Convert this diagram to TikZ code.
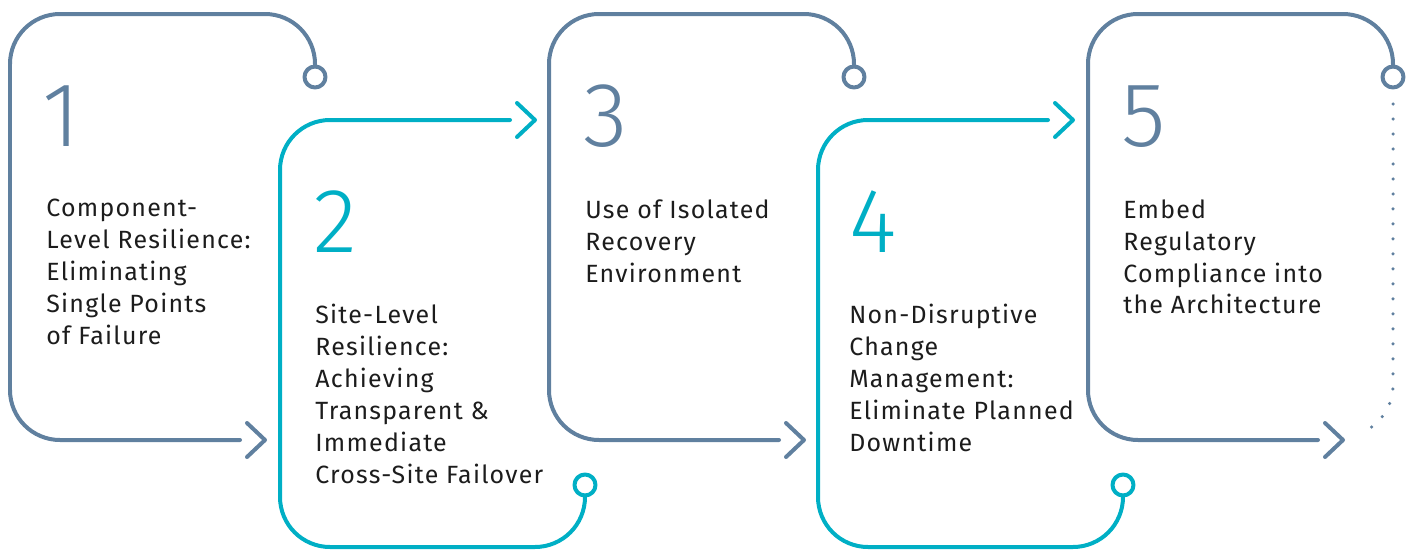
\documentclass[tikz,border=0pt]{standalone}
\usepackage{fontspec}
\setmainfont{Fira Sans}[LetterSpace=5]
\IfFontExistsTF{Fira Sans Light}{\newfontfamily\numfont{Fira Sans Light}}{\newfontfamily\numfont{Lato}}
\usepackage{tikz}
\definecolor{slate}{HTML}{60809F}
\definecolor{teal}{HTML}{00AFC5}
\definecolor{ink}{HTML}{1C1C1C}
\tikzset{
  stepline/.style={line width=0.08cm, line cap=round, line join=round},
  stepnum/.style={anchor=base west, inner sep=0pt, font=\numfont\fontsize{52pt}{52pt}\selectfont},
  steptext/.style={anchor=north west, inner sep=0pt, align=left, text=ink,
    font=\fontsize{14.2pt}{18.2pt}\selectfont}
}
% step opening upwards: circle on top, chevron at the bottom
\def\upstep[#1](#2){
  \draw[stepline,#1,rounded corners=1cm] (#2+305,66.5) -- (#2+305,14) -- (#2,14) -- (#2,440) -- (#2+230,440);
  \draw[stepline,#1] (#2+305,77) circle (10.5);
  \draw[stepline,#1] (#2+237,423) -- (#2+255,440) -- (#2+237,457);
}
% step opening downwards: chevron on top, circle at the bottom
\def\downstep[#1](#2){
  \draw[stepline,#1,rounded corners=1cm] (#2+230,120) -- (#2,120) -- (#2,547) -- (#2+305,547) -- (#2+305,495.5);
  \draw[stepline,#1] (#2+305,485) circle (10.5);
  \draw[stepline,#1] (#2+237,103) -- (#2+255,120) -- (#2+237,137);
}

\begin{document}
\begin{tikzpicture}[x=0.02cm, y=-0.02cm]
			%%%%% START %%%%%
			\useasboundingbox (0,0) rectangle (1411,552);
			
			\upstep[slate](10)
			\downstep[teal](280)
			\upstep[slate](549)
			\downstep[teal](818)
			\upstep[slate](1088)
			
			% trailing dots after the last step
			\draw[slate, line width=0.07cm, line cap=round, dash pattern=on 0pt off 0.3cm]
				(1393,104) -- (1393,385) arc (0:55:52);
			
			\node[stepnum, text=slate] (num1) at (42,146) {1};
			\node[stepnum, text=teal] (num2) at (313,252) {2};
			\node[stepnum, text=slate] (num3) at (583,146) {3};
			\node[stepnum, text=teal] (num4) at (849,252) {4};
			\node[stepnum, text=slate] (num5) at (1121,146) {5};
			
			\node[steptext] (txt1) at (46,199) {Component-\\Level Resilience:\\Eliminating\\Single Points\\of Failure};
			\node[steptext] (txt2) at (315,304) {Site-Level\\Resilience:\\Achieving\\Transparent \&\\Immediate\\Cross-Site Failover};
			\node[steptext] (txt3) at (585,199) {Use of Isolated\\Recovery\\Environment};
			\node[steptext] (txt4) at (849,304) {Non-Disruptive\\Change\\Management:\\Eliminate Planned\\Downtime};
			\node[steptext] (txt5) at (1123,199) {Embed\\Regulatory\\Compliance into\\the Architecture};
			
			%%%%% END %%%%%
\end{tikzpicture}
\end{document}
